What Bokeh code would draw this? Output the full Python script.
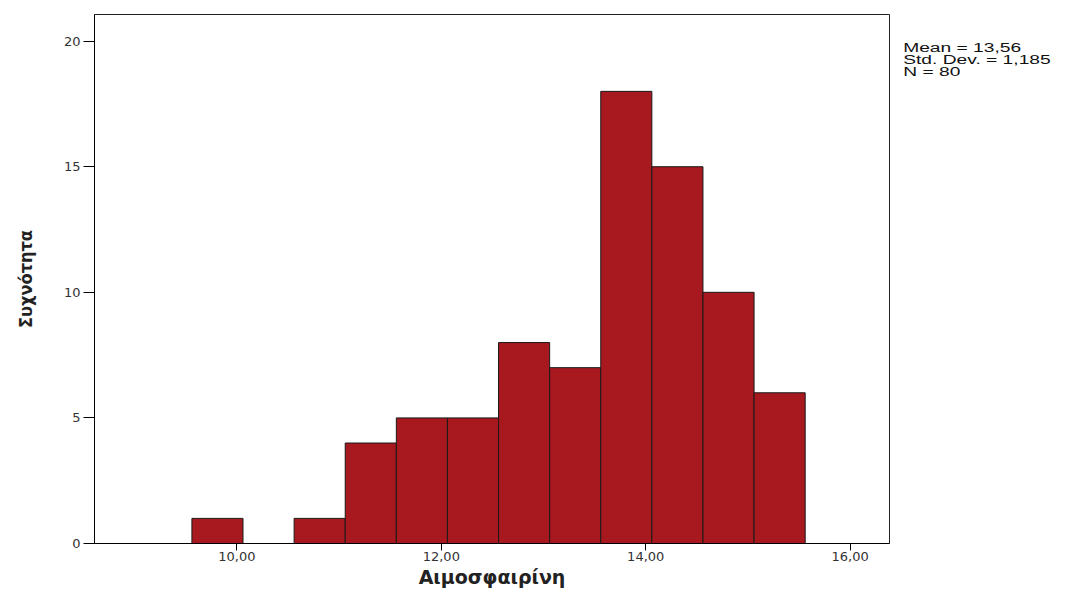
from bokeh.plotting import figure
from bokeh.models import FixedTicker, Range1d, Div
from bokeh.layouts import row
from bokeh.embed import file_html
from bokeh.resources import INLINE

# Histogram data
bin_lefts = [9.56, 10.06, 10.56, 11.06, 11.56, 12.06, 12.56, 13.06, 13.56, 14.06, 14.56, 15.06]
bin_width = 0.5
counts = [1, 0, 1, 4, 5, 5, 8, 7, 18, 15, 10, 6]

x_ticks = [10, 12, 14, 16]
x_tick_labels = ["10,00", "12,00", "14,00", "16,00"]
y_ticks = [0, 5, 10, 15, 20]

stats_lines = ["Mean = 13,56", "Std. Dev. = 1,185", "N = 80"]

x_title = "Αιμοσφαιρίνη"
y_title = "Συχνότητα"

p = figure(width=895, height=592, output_backend="svg", toolbar_location=None,
           x_range=Range1d(8.607, 16.385), y_range=Range1d(0, 21.06),
           min_border_left=94, min_border_right=6, min_border_top=14, min_border_bottom=49)

p.background_fill_color = "white"
p.border_fill_color = "white"
p.outline_line_color = "#222222"
p.outline_line_width = 1
p.grid.visible = False

rights = [l + bin_width for l in bin_lefts]
p.quad(left=bin_lefts, right=rights, top=counts, bottom=0,
       fill_color="#A8181F", line_color="#1a1a1a", line_width=1)

# X axis
p.xaxis.ticker = FixedTicker(ticks=x_ticks)
p.xaxis.major_label_overrides = {t: s for t, s in zip(x_ticks, x_tick_labels)}
p.xaxis.minor_tick_line_color = None
p.xaxis.major_tick_in = 0
p.xaxis.major_tick_out = 7
p.xaxis.major_label_standoff = 1
p.xaxis.major_label_text_font = "DejaVu Sans"
p.xaxis.major_label_text_font_size = "13px"
p.xaxis.major_label_text_color = "#333333"
p.xaxis.axis_label = x_title
p.xaxis.axis_label_text_font = "DejaVu Sans"
p.xaxis.axis_label_text_font_style = "bold"
p.xaxis.axis_label_text_font_size = "19px"
p.xaxis.axis_label_text_color = "#222222"
p.xaxis.axis_label_standoff = 2
p.xaxis.axis_line_color = "black"

# Y axis
p.yaxis.ticker = FixedTicker(ticks=y_ticks)
p.yaxis.minor_tick_line_color = None
p.yaxis.major_tick_in = 0
p.yaxis.major_tick_out = 11
p.yaxis.major_label_standoff = 3
p.yaxis.major_label_text_font = "DejaVu Sans"
p.yaxis.major_label_text_font_size = "13px"
p.yaxis.major_label_text_color = "#333333"
p.yaxis.axis_label = y_title
p.yaxis.axis_label_text_font = "DejaVu Sans Condensed"
p.yaxis.axis_label_text_font_style = "bold"
p.yaxis.axis_label_text_font_size = "18px"
p.yaxis.axis_label_text_color = "#222222"
p.yaxis.axis_label_standoff = 25
p.yaxis.axis_line_color = "black"

# Stats text to the right of the frame
stats = Div(text="<br>".join(stats_lines), width=98, height=120,
            styles={"font-family": "Liberation Sans, Arial, sans-serif",
                    "font-size": "12px", "line-height": "12px", "color": "#111111",
                    "white-space": "nowrap", "padding-top": "37px", "padding-left": "2px",
                    "transform": "scaleX(1.6)", "transform-origin": "left top"})

layout = row(p, stats)
open("out.html", "w").write(file_html(layout, INLINE))
